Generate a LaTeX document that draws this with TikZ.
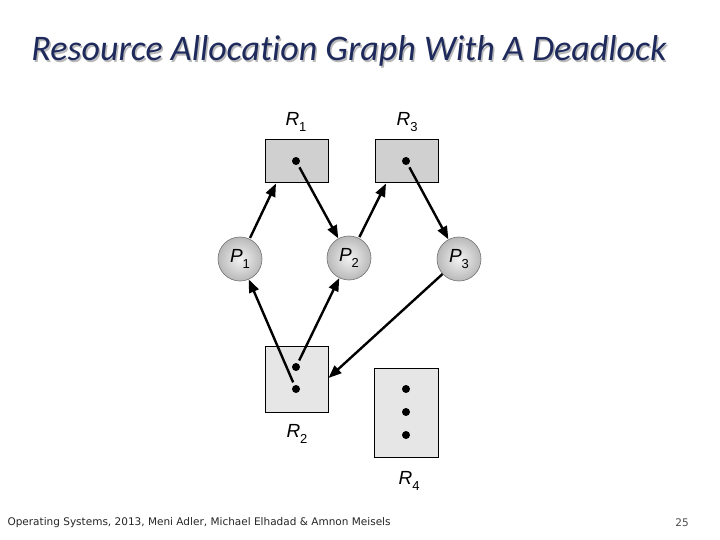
\documentclass[tikz,border=0pt]{standalone}
\usepackage{fontspec}
\setmainfont{Liberation Sans}
\newfontfamily\titlefont[Ligatures=NoCommon]{Carlito}
\newfontfamily\footfont{DejaVu Sans}
\usetikzlibrary{arrows.meta,shadings}
\definecolor{titleblue}{HTML}{1F2A5C}
\definecolor{boxdark}{HTML}{D0D0D0}
\definecolor{boxlight}{HTML}{E6E6E6}
\newcommand{\lbl}[1]{\fontsize{19}{19}\selectfont\textit{R}\raisebox{-0.55ex}{\fontsize{13}{13}\selectfont #1}}
\newcommand{\plbl}[1]{\fontsize{19}{19}\selectfont\textit{P}\raisebox{-0.55ex}{\fontsize{13}{13}\selectfont #1}}
\tikzset{
  res/.style={draw=black, line width=1pt, inner sep=0pt},
  proc/.style={circle, draw=black!55, line width=0.6pt, minimum size=44pt, inner sep=0pt,
    inner color=gray!10, outer color=gray!55, shading=radial},
  dotmark/.style={circle, fill=black, minimum size=8pt, inner sep=0pt},
  edge/.style={-{Triangle[length=13pt,width=10pt]}, line width=2.4pt},
}
\begin{document}
\begin{tikzpicture}[x=1pt,y=-1pt]
\useasboundingbox (0,0) rectangle (720,540);
\fill[white] (0,0) rectangle (720,540);
% title
\node[text=gray!55] at (350.5,52.5) {\titlefont\itshape\fontsize{36}{36}\selectfont Resource Allocation Graph With A Deadlock};
\node[text=titleblue] (title) at (349,51) {\titlefont\itshape\fontsize{36}{36}\selectfont Resource Allocation Graph With A Deadlock};
% resources
\node[res, fill=boxdark, minimum width=63pt, minimum height=43pt] (R1) at (296.5,161.5) {};
\node[res, fill=boxdark, minimum width=63pt, minimum height=43pt] (R3) at (406.5,161.5) {};
\node[res, fill=boxlight, minimum width=63pt, minimum height=66pt] (R2) at (296.5,379) {};
\node[res, fill=boxlight, minimum width=64pt, minimum height=89pt] (R4) at (406,412.5) {};
\node[dotmark] (d1) at (296,161) {};
\node[dotmark] (d3) at (406,161) {};
\node[dotmark] (d2a) at (296,367) {};
\node[dotmark] (d2b) at (296,389) {};
\node[dotmark] (d4a) at (406,389) {};
\node[dotmark] (d4b) at (406,412) {};
\node[dotmark] (d4c) at (406,435) {};
% labels
\node (lR1) at (296,122) {\lbl{1}};
\node (lR3) at (407,122) {\lbl{3}};
\node (lR2) at (297,434) {\lbl{2}};
\node (lR4) at (409,481) {\lbl{4}};
% processes
\node[proc] (P1) at (240,259) {\plbl{1}};
\node[proc] (P2) at (349,258) {\plbl{2}};
\node[proc] (P3) at (459,259) {\plbl{3}};
% edges
\coordinate (r1b) at (276,183.5);
\coordinate (r3b) at (386,183.5);
\coordinate (r2r) at (328.5,378);
\draw[edge, shorten <=1pt] (P1) -- (r1b);
\draw[edge, shorten <=3pt] (d1) -- (P2);
\draw[edge, shorten <=1pt] (P2) -- (r3b);
\draw[edge, shorten <=3pt] (d3) -- (P3);
\draw[edge, shorten <=3pt] (d2b) -- (P1);
\draw[edge, shorten <=3pt] (d2a) -- (P2);
\draw[edge] (P3) -- (r2r);
% footer
\node[anchor=west, text=black!85] (foot) at (4,523) {\footfont\fontsize{10.5}{10.5}\selectfont Operating Systems, 2013, Meni Adler, Michael Elhadad \& Amnon Meisels};
\node[text=black!70] (page) at (682,523) {\footfont\fontsize{10.5}{10.5}\selectfont 25};
\end{tikzpicture}
\end{document}
